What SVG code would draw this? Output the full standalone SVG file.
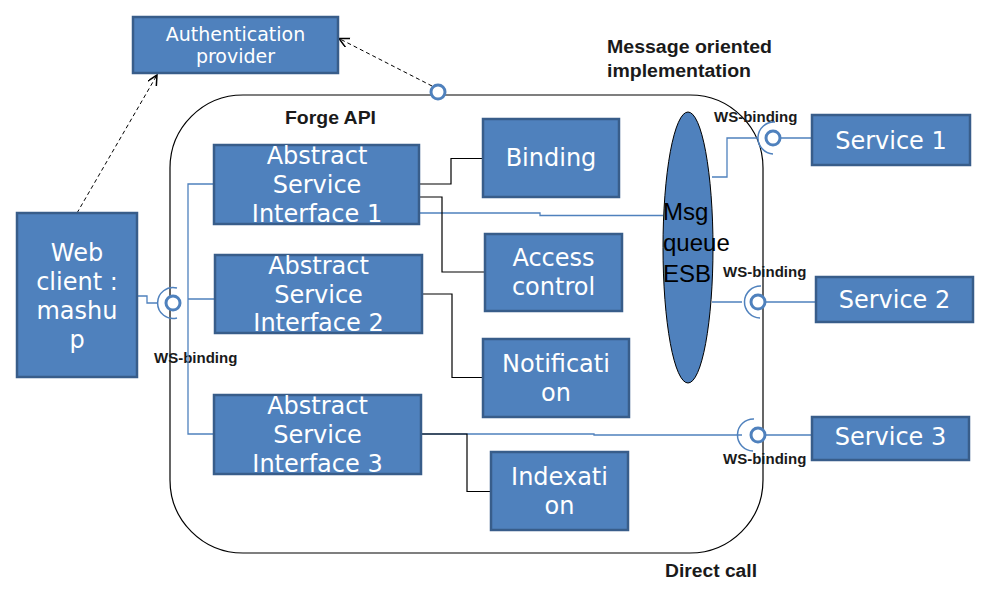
<svg xmlns="http://www.w3.org/2000/svg" width="991" height="597" viewBox="0 0 991 597">
<defs>
<style>
.box{fill:#4f81bd;stroke:#385d8a;stroke-width:2.5}
.bt{font-family:"DejaVu Sans",sans-serif;font-size:24px;fill:#ffffff;text-anchor:middle}
.lbl{font-family:"Liberation Sans",Arial,sans-serif;font-weight:bold;fill:#1a1a1a}
.ws{font-size:15px}
.big{font-size:18px}
.blue{fill:none;stroke:#4f81bd;stroke-width:1.3}
.blk{fill:none;stroke:#000000;stroke-width:1.2}
.dash{fill:none;stroke:#000000;stroke-width:1;stroke-dasharray:4,3}
.port{fill:#ffffff;stroke:#4f81bd;stroke-width:3}
.sock{fill:none;stroke:#4f81bd;stroke-width:1.5}
</style>
<marker id="open" markerWidth="12" markerHeight="12" refX="10" refY="5" orient="auto" markerUnits="userSpaceOnUse">
<path d="M0,0 L10,5 L0,10" fill="none" stroke="#000" stroke-width="1.5"/>
</marker>
</defs>
<rect width="991" height="597" fill="#ffffff"/>

<g id="forge-api">
<rect x="170" y="95" width="593" height="458" rx="73" ry="73" fill="none" stroke="#000" stroke-width="1.2"/>
<text class="lbl big" x="285" y="124" textLength="91" lengthAdjust="spacingAndGlyphs">Forge API</text>
</g>

<g id="labels">
<text class="lbl big" x="607" y="53" textLength="165" lengthAdjust="spacingAndGlyphs">Message oriented</text>
<text class="lbl big" x="607" y="77" textLength="144" lengthAdjust="spacingAndGlyphs">implementation</text>
<text class="lbl big" x="665" y="577" textLength="92" lengthAdjust="spacingAndGlyphs">Direct call</text>
<text class="lbl ws" x="714" y="122">WS-binding</text>
<text class="lbl ws" x="723" y="277">WS-binding</text>
<text class="lbl ws" x="723" y="464">WS-binding</text>
<text class="lbl ws" x="154" y="363">WS-binding</text>
</g>

<g id="connectors">
<path class="blue" d="M137,296 H147 V303 H157"/>
<path class="blue" d="M214,184 H188 V434 H214 M188,299 H215"/>
<path class="blue" d="M419,213 H540 V215.5 H663"/>
<path class="blue" d="M712,177 H727 V138 H758 M780,138 H812"/>
<path class="blue" d="M712,302 H742 M765,302 H816"/>
<path class="blue" d="M421,434 H594 V435 H742 M765,435 H812"/>
<path class="blk" d="M419,184 H451 V158.5 H483"/>
<path class="blk" d="M419,197 H442 V272 H485"/>
<path class="blk" d="M422,294 H452 V377.5 H483"/>
<path class="blk" d="M421,434 H467 V491.5 H491"/>
<path class="dash" d="M432,86 L339,38.5" marker-end="url(#open)"/>
<path class="dash" d="M77,213 L157,75" marker-end="url(#open)"/>
</g>

<g id="port-left">
<path class="sock" d="M177,288 A15.5,15.5 0 1,0 177,318"/>
<circle class="port" cx="173" cy="303" r="7"/>
</g>
<g id="port-top">
<circle class="port" cx="438" cy="92" r="7"/>
</g>
<g id="port-1">
<path class="sock" d="M775,122 A16,16 0 1,0 773,154"/>
<circle class="port" cx="773" cy="138" r="7"/>
</g>
<g id="port-2">
<path class="sock" d="M761,286 A16,16 0 1,0 760,318"/>
<circle class="port" cx="758" cy="302" r="7"/>
</g>
<g id="port-3">
<path class="sock" d="M754,419 A16,16 0 1,0 753,451"/>
<circle class="port" cx="758" cy="435" r="7"/>
</g>

<g id="auth-provider">
<rect class="box" x="133" y="17" width="205" height="56"/>
<text class="bt" x="235.5" y="41" style="font-size:19px">Authentication</text>
<text class="bt" x="235.5" y="63" style="font-size:19px">provider</text>
</g>

<g id="web-client">
<rect class="box" x="17" y="213" width="120" height="164"/>
<text class="bt" x="77" y="261">Web</text>
<text class="bt" x="77" y="290">client :</text>
<text class="bt" x="77" y="319">mashu</text>
<text class="bt" x="77" y="348">p</text>
</g>

<g id="asi-1">
<rect class="box" x="214" y="145" width="205" height="79"/>
<text class="bt" x="317" y="164">Abstract</text>
<text class="bt" x="317" y="193">Service</text>
<text class="bt" x="317" y="222">Interface 1</text>
</g>
<g id="asi-2">
<rect class="box" x="215" y="255" width="207" height="78"/>
<text class="bt" x="318.5" y="273.5">Abstract</text>
<text class="bt" x="318.5" y="302.5">Service</text>
<text class="bt" x="318.5" y="331">Interface 2</text>
</g>
<g id="asi-3">
<rect class="box" x="214" y="395" width="207" height="79"/>
<text class="bt" x="317.5" y="413.5">Abstract</text>
<text class="bt" x="317.5" y="443">Service</text>
<text class="bt" x="317.5" y="471.5">Interface 3</text>
</g>

<g id="binding">
<rect class="box" x="483" y="119" width="136" height="78"/>
<text class="bt" x="551" y="166">Binding</text>
</g>
<g id="access-control">
<rect class="box" x="485" y="234" width="137" height="77"/>
<text class="bt" x="553.5" y="266">Access</text>
<text class="bt" x="553.5" y="295">control</text>
</g>
<g id="notification">
<rect class="box" x="483" y="339" width="146" height="78"/>
<text class="bt" x="556" y="372">Notificati</text>
<text class="bt" x="556" y="401">on</text>
</g>
<g id="indexation">
<rect class="box" x="491" y="452" width="137" height="78"/>
<text class="bt" x="559.5" y="485">Indexati</text>
<text class="bt" x="559.5" y="514">on</text>
</g>

<g id="msg-queue">
<ellipse cx="688" cy="247.5" rx="25" ry="135.5" fill="#4f81bd" stroke="#000" stroke-width="1"/>
<text x="663" y="220" font-family="Liberation Sans, Arial, sans-serif" font-size="24" fill="#000">Msg</text>
<text x="663" y="251" font-family="Liberation Sans, Arial, sans-serif" font-size="24" fill="#000">queue</text>
<text x="663" y="282" font-family="Liberation Sans, Arial, sans-serif" font-size="24" fill="#000">ESB</text>
</g>

<g id="service-1">
<rect class="box" x="812" y="115" width="158" height="50"/>
<text class="bt" x="891" y="148.5">Service 1</text>
</g>
<g id="service-2">
<rect class="box" x="816" y="277" width="157" height="45"/>
<text class="bt" x="894.5" y="308">Service 2</text>
</g>
<g id="service-3">
<rect class="box" x="812" y="417" width="157" height="43"/>
<text class="bt" x="890.5" y="445">Service 3</text>
</g>
</svg>
